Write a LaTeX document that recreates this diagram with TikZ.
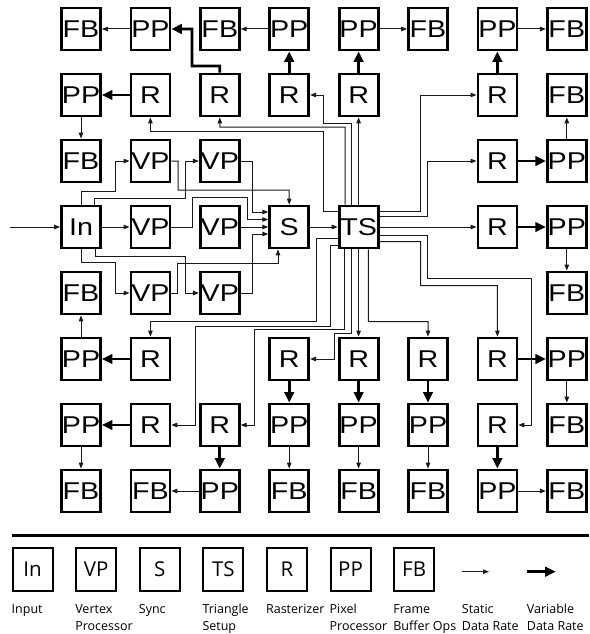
\documentclass[tikz,border=0pt]{standalone}
\usepackage{fontspec}
\newfontfamily\boxfont[FakeStretch=1.18]{Liberation Sans}
\newfontfamily\legfont{Open Sans}
\usetikzlibrary{arrows.meta}
\newcommand\mkbox[3]{\node[box] (n#1#2) at ({81+69.4*#2},{29+66*#1}) {#3};}
\tikzset{
  box/.style={draw=black, fill=white, line width=2.8pt, minimum width=39pt, minimum height=42pt,
    inner sep=0pt, text height=17.3pt, text depth=0pt, font=\boxfont\fontsize{24.3}{25}\selectfont},
  lbox/.style={draw=black, fill=white, line width=2pt, minimum width=40pt, minimum height=43pt,
    inner sep=0pt, text height=14.5pt, text depth=0pt, font=\legfont\fontsize{20.5}{21}\selectfont},
  ltext/.style={anchor=base west, inner sep=0pt, font=\legfont\fontsize{12.5}{17}\selectfont},
  sarr/.style={draw=black!90, line width=1pt, -{Triangle[length=6pt,width=4.5pt]}},
  varr/.style={draw=black, line width=2.7pt, -{Triangle[length=10.5pt,width=9.5pt]}},
}
\begin{document}
\begin{tikzpicture}[x=1pt,y=-1pt]
\fill[white] (0,0) rectangle (589,634);
\useasboundingbox (0,0) rectangle (589,634);
% row 0
\mkbox{0}{0}{FB}\mkbox{0}{1}{PP}\mkbox{0}{2}{FB}\mkbox{0}{3}{PP}
\mkbox{0}{4}{PP}\mkbox{0}{5}{FB}\mkbox{0}{6}{PP}\mkbox{0}{7}{FB}
% row 1
\mkbox{1}{0}{PP}\mkbox{1}{1}{R}\mkbox{1}{2}{R}\mkbox{1}{3}{R}
\mkbox{1}{4}{R}\mkbox{1}{6}{R}\mkbox{1}{7}{FB}
% row 2
\mkbox{2}{0}{FB}\mkbox{2}{1}{VP}\mkbox{2}{2}{VP}\mkbox{2}{6}{R}\mkbox{2}{7}{PP}
% row 3
\mkbox{3}{0}{In}\mkbox{3}{1}{VP}\mkbox{3}{2}{VP}\mkbox{3}{3}{S}
\mkbox{3}{4}{TS}\mkbox{3}{6}{R}\mkbox{3}{7}{PP}
% row 4
\mkbox{4}{0}{FB}\mkbox{4}{1}{VP}\mkbox{4}{2}{VP}\mkbox{4}{7}{FB}
% row 5
\mkbox{5}{0}{PP}\mkbox{5}{1}{R}\mkbox{5}{3}{R}\mkbox{5}{4}{R}
\mkbox{5}{5}{R}\mkbox{5}{6}{R}\mkbox{5}{7}{PP}
% row 6
\mkbox{6}{0}{PP}\mkbox{6}{1}{R}\mkbox{6}{2}{R}\mkbox{6}{3}{PP}
\mkbox{6}{4}{PP}\mkbox{6}{5}{PP}\mkbox{6}{6}{R}\mkbox{6}{7}{FB}
% row 7
\mkbox{7}{0}{FB}\mkbox{7}{1}{FB}\mkbox{7}{2}{PP}\mkbox{7}{3}{FB}
\mkbox{7}{4}{FB}\mkbox{7}{5}{FB}\mkbox{7}{6}{PP}\mkbox{7}{7}{FB}

% input
\coordinate (ext) at (10,227);
\draw[sarr] (ext) -- (n30);
\draw[sarr] (n30) -- (n31);
\draw[sarr] (n30.north) -- (81,191) -- (115,191) -- (115,161) -- (n21.west);
\draw[sarr] (n30.north -| 94,0) -- (94,198) -- (185,198) -- (185,161) -- (n22.west);
\draw[sarr] (n30.south) -- (81,262.5) -- (115.5,262.5) -- (115.5,293) -- (n41.west);
\draw[sarr] (n30.south -| 95,0) -- (95,256) -- (185,256) -- (185,293) -- (n42.west);
% VP to S
\draw[sarr] (n21.east) -- (178,161) -- (178,190) -- (289.2,190) -- (n33.north);
\draw[sarr] (n22.east) -- (252,161) -- (252,212) -- (n33.west |- 0,212);
\draw[sarr] (n31.east) -- (192,227) -- (192,197) -- (247,197) -- (247,219.5) -- (n33.west |- 0,219.5);
\draw[sarr] (n32) -- (n33);
\draw[sarr] (n42.east) -- (252,293) -- (252,234) -- (n33.west |- 0,234);
\draw[sarr] (n41.east) -- (177,293) -- (177,263.5) -- (278,263.5) -- (n33.south -| 278,0);
% S to TS
\draw[sarr] (n33) -- (n34);
% TS to R
\draw[sarr] (n34.north) -- (n14.south);
\draw[sarr] (n34.north -| 351.7,0) -- (351.7,123.5) -- (323.3,123.5) -- (323.3,95) -- (n13.east);
\draw[sarr] (n34.north -| 345,0) -- (345,127) -- (219.8,127) -- (n12.south);
\draw[sarr] (n34.west |- 0,211.7) -- (323.3,211.7) -- (323.3,131.5) -- (150.4,131.5) -- (n11.south);
\draw[sarr] (n34.east |- 0,211.7) -- (420,211.7) -- (420,95) -- (n16.west);
\draw[sarr] (n34.east |- 0,216.7) -- (427.5,216.7) -- (427.5,161) -- (n26.west);
\draw[sarr] (n34) -- (n36);
\draw[sarr] (n34.east |- 0,235) -- (427.5,235) -- (427.5,278.3) -- (531,278.3) -- (531,425) -- (n66.east);
\draw[sarr] (n34.east |- 0,241.7) -- (420.5,241.7) -- (420.5,285.5) -- (497.4,285.5) -- (n56.north);
\draw[sarr] (n34.south -| 368.3,0) -- (368.3,321.7) -- (428,321.7) -- (n55.north);
\draw[sarr] (n34.south) -- (n54.north);
\draw[sarr] (n34.south -| 351.3,0) -- (351.3,333) -- (334,333) -- (334,359) -- (n53.east);
\draw[sarr] (n34.south -| 344.3,0) -- (344.3,329.5) -- (254.7,329.5) -- (254.7,425) -- (n62.east);
\draw[sarr] (n34.west |- 0,238) -- (316.7,238) -- (316.7,321.7) -- (150.4,321.7) -- (n51.north);
\draw[sarr] (n34.west |- 0,245) -- (330,245) -- (330,326.5) -- (195,326.5) -- (195,425) -- (n61.east);
% variable-rate arrows
\draw[varr] (n11) -- (n10);
\draw[varr] (n12.north) -- (219.8,66) -- (192,66) -- (192,29) -- (n01.east);
\draw[varr] (n13) -- (n03);
\draw[varr] (n14) -- (n04);
\draw[varr] (n16) -- (n06);
\draw[varr] (n26) -- (n27);
\draw[varr] (n36) -- (n37);
\draw[varr] (n51) -- (n50);
\draw[varr] (n61) -- (n60);
\draw[varr] (n62) -- (n72);
\draw[varr] (n53) -- (n63);
\draw[varr] (n54) -- (n64);
\draw[varr] (n55) -- (n65);
\draw[varr] (n56) -- (n57);
\draw[varr] (n66) -- (n76);
% static-rate arrows PP -> FB
\draw[sarr] (n01) -- (n00);
\draw[sarr] (n03) -- (n02);
\draw[sarr] (n04) -- (n05);
\draw[sarr] (n06) -- (n07);
\draw[sarr] (n10) -- (n20);
\draw[sarr] (n27) -- (n17);
\draw[sarr] (n37) -- (n47);
\draw[sarr] (n50) -- (n40);
\draw[sarr] (n60) -- (n70);
\draw[sarr] (n72) -- (n71);
\draw[sarr] (n63) -- (n73);
\draw[sarr] (n64) -- (n74);
\draw[sarr] (n65) -- (n75);
\draw[sarr] (n57) -- (n67);
\draw[sarr] (n76) -- (n77);

% legend
\draw[line width=3pt] (11.7,535) -- (589,535);
\foreach \t [count=\i from 0] in {In,VP,S,TS,R,PP,FB}{
  \node[lbox] (l\i) at ({32.5+63.6*\i},569.5) {\t};
}
\node[ltext] (t0) at (l0.west |- 0,613) {Input};
\node[ltext] (t1) at (l1.west |- 0,613) {\vtop{\baselineskip=17pt\hbox{Vertex}\hbox{Processor}}};
\node[ltext] (t2) at (l2.west |- 0,613) {Sync};
\node[ltext] (t3) at (l3.west |- 0,613) {\vtop{\baselineskip=17pt\hbox{Triangle}\hbox{Setup}}};
\node[ltext] (t4) at (l4.west |- 0,613) {Rasterizer};
\node[ltext] (t5) at (l5.west |- 0,613) {\vtop{\baselineskip=17pt\hbox{Pixel}\hbox{Processor}}};
\node[ltext] (t6) at (l6.west |- 0,613) {\vtop{\baselineskip=17pt\hbox{Frame}\hbox{Buffer Ops}}};
\node[ltext] (t7) at (461.7,613) {\vtop{\baselineskip=17pt\hbox{Static}\hbox{Data Rate}}};
\node[ltext] (t8) at (526.7,613) {\vtop{\baselineskip=17pt\hbox{Variable}\hbox{Data Rate}}};
\coordinate (ls1) at (461.7,571.7);
\coordinate (ls2) at (489,571.7);
\coordinate (lv1) at (526.7,571.7);
\coordinate (lv2) at (555.7,571.7);
\draw[sarr] (ls1) -- (ls2);
\draw[varr] (lv1) -- (lv2);
\end{tikzpicture}
\end{document}
